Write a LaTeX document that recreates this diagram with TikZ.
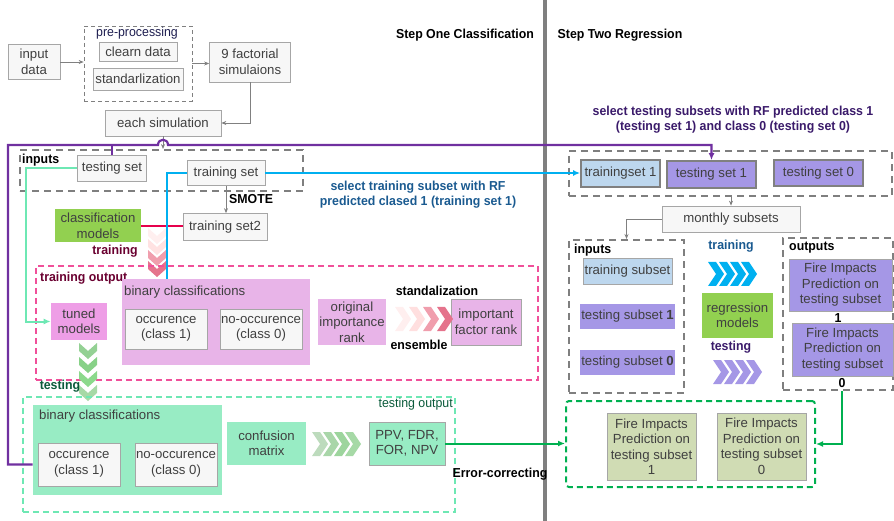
\documentclass[tikz,border=0pt]{standalone}
\usepackage{fontspec}
\setmainfont{Liberation Sans}
\newfontfamily\narrowfont[FakeStretch=0.95]{Liberation Sans}
\usetikzlibrary{arrows.meta,calc}

\definecolor{vio}{HTML}{7030A0}
\definecolor{sky}{HTML}{00B0F0}
\definecolor{mint}{HTML}{6EE8B4}
\definecolor{crimson}{HTML}{E6004C}
\definecolor{pinkdash}{HTML}{F0509A}
\definecolor{lilac}{HTML}{E8B4E8}
\definecolor{orchid}{HTML}{EE9EE6}
\definecolor{mintfill}{HTML}{98ECC4}
\definecolor{leaf}{HTML}{92D050}
\definecolor{paleblue}{HTML}{BDD7EE}
\definecolor{lavender}{HTML}{A597E6}
\definecolor{olive}{HTML}{D0DCB4}
\definecolor{grn}{HTML}{00B050}
\definecolor{divgray}{HTML}{7F7F7F}
\definecolor{maroon}{HTML}{6A0030}
\definecolor{navy}{HTML}{1E1E50}
\definecolor{deepblue}{HTML}{1A5A90}
\definecolor{deepvio}{HTML}{3A1A6A}
\definecolor{deepgrn}{HTML}{0A5A3A}

\tikzset{
  wh/.style 2 args={minimum width=#1pt, minimum height=#2pt},
  box/.style={draw=gray!70, fill=gray!6, text=black!75, line width=0.7pt,
    font=\fontsize{13.2}{15.5}\selectfont, align=center, inner sep=1pt},
  flat/.style={box, draw=none},
  setbox/.style={box, draw=gray, line width=1.8pt},
  tag/.style={font={\narrowfont\bfseries\fontsize{13}{15}\selectfont}, inner sep=0pt, align=center},
  grp/.style={draw=divgray, line width=2pt, dash pattern=on 7pt off 5pt},
  thindash/.style={draw=gray, line width=0.7pt, dash pattern=on 4pt off 3pt},
  arr/.style={draw=gray, line width=0.7pt, -{Stealth[length=5pt,width=4pt]}},
  chevright/.pic={\fill (0,-12) -- (8,-12) -- (16,0) -- (8,12) -- (0,12) -- (8,0) -- cycle;},
  chevdown/.pic={\fill (-9,0) -- (0,8) -- (9,0) -- (9,8) -- (0,16) -- (-9,8) -- cycle;}
}

\begin{document}
\begin{tikzpicture}[x=1pt, y=-1pt]
\useasboundingbox (0,0) rectangle (894,521);

% divider between the two steps
\draw[line width=4pt, divgray] (545,0) -- (545,521);
\node[tag] at (465,35) {Step One Classification};
\node[tag] at (620,35) {Step Two Regression};

% pre-processing
\node[box, wh={52}{35}] (indata) at (34,62) {input\\data};
\node[thindash, wh={108}{75}] (prep) at (138,63.5) {};
\node[font={\narrowfont\fontsize{13}{15}\selectfont}, text=navy, inner sep=0pt] at (137,33) {pre-processing};
\node[box, wh={78}{19}] (clean) at (138,52) {clearn data};
\node[box, wh={90}{22}] (stdz) at (138,79) {standarlization};
\node[box, wh={81}{40}] (fact) at (250,62) {9 factorial\\simulaions};
\node[box, wh={116}{26}] (each) at (163,123) {each simulation};
\draw[arr] (indata.east) -- (indata.east -| prep.west);
\draw[arr] (prep.east) -- (prep.east -| fact.west);
\draw[arr] (fact.south) |- (each.east);

% inputs of step one
\node[grp, wh={283}{41}] (inL) at (161.5,170.5) {};
\node[tag, anchor=west] at (22,160) {inputs};
\node[box, wh={69}{26}] (tsL) at (112,168) {testing set};
\node[box, wh={78}{25}] (trS) at (226,173) {training set};
\node[box, wh={84}{27}] (tr2) at (225,227) {training set2};
\node[flat, fill=leaf, wh={86}{33}] (clsM) at (98,226) {classification\\models};
\draw[arr] (each.south) -- (each.south |- inL.north);
\draw[arr] (trS.south) -- (trS.south |- tr2.north);
\node[tag, anchor=west] at (229,199) {SMOTE};
\draw[crimson, line width=1.8pt] (clsM.east) -- (clsM.east -| tr2.west);

% training
\foreach \y/\c in {228/pink!25, 239/pink!45, 250/pink!70!purple!80, 261/pink!60!purple} {
  \pic[fill=\c] at (157,\y) {chevdown};
}
\node[tag, text=maroon] at (115,251) {training};

\node[draw=pinkdash, line width=2pt, dash pattern=on 6pt off 4pt, wh={502}{114}] (trOut) at (287,323) {};
\node[tag, text=maroon, anchor=west] at (40,278) {training output};
\node[flat, fill=orchid, wh={56}{37}] (tuned) at (79,321.5) {tuned\\models};
\node[flat, fill=lilac, wh={188}{86}] (binTr) at (216,322) {};
\node[text=black!75, font=\fontsize{13.2}{15}\selectfont, anchor=west, inner sep=0pt] at (124,292) {binary classifications};
\node[box, wh={82}{40}] (occR) at (166,329) {occurence\\(class 1)};
\node[box, wh={82}{40}] (noccR) at (261,329) {no-occurence\\(class 0)};
\node[flat, fill=lilac, wh={68}{46}] (origImp) at (352,322) {original\\importance\\rank};
\node[box, fill=lilac, wh={70}{46}] (impF) at (486,322) {important\\factor rank};
\foreach \i/\c in {0/pink!25, 1/pink!50, 2/pink!70!purple!80, 3/pink!60!purple} {
  \pic[fill=\c] at (395+14*\i,319) {chevright};
}
\node[tag] at (437,291) {standalization};
\node[tag] at (419,345) {ensemble};

% links from the inputs
\draw[vio, line width=2.2pt] (tsL.north) -- (tsL.north |- 0,145);
\coordinate (vl) at (8,145);
\coordinate (hop) at (each.south |- vl);
\draw[mint, line width=2pt, -{Latex[length=7pt,width=6pt]}] (tsL.west) -- ++(-51,0) |- (tuned.west);
\draw[sky, line width=2.2pt] ([xshift=-49pt]binTr.north) |- (trS.west);

% testing
\foreach \y/\c in {343/green!40!gray!60, 357/green!45!gray!65, 371/green!50!gray!60, 385/green!40!gray!50} {
  \pic[fill=\c] at (88,\y) {chevdown};
}
\node[tag, text=deepgrn] at (60,386) {testing};

\node[draw=mint, line width=2pt, dash pattern=on 6pt off 4pt, wh={432}{115}] (teOut) at (239,454.5) {};
\node[font={\narrowfont\fontsize{13}{15}\selectfont}, text=deepgrn, anchor=east, inner sep=0pt] at (453,404) {testing output};
\node[flat, fill=mintfill, wh={189}{90}] (binT) at (127.5,450) {};
\node[text=black!75, font=\fontsize{13.2}{15}\selectfont, anchor=west, inner sep=0pt] at (39,416) {binary classifications};
\node[box, wh={82}{43}] (occT) at (79,464.5) {occurence\\(class 1)};
\node[box, wh={82}{43}] (noccT) at (176,464.5) {no-occurence\\(class 0)};
\node[flat, fill=mintfill, wh={79}{43}] (conf) at (266.5,443.5) {confusion\\matrix};
\foreach \i/\c in {0/green!30!gray!40, 1/green!35!gray!50, 2/green!40!gray!55, 3/green!40!gray!50} {
  \pic[fill=\c] at (312+11*\i,444) {chevright};
}
\node[box, fill=mintfill, wh={76}{43}] (ppv) at (407,443.5) {PPV, FDR,\\FOR, NPV};

% step two
\node[tag, text=deepvio] at (733,120) {select testing subsets with RF predicted class 1\\(testing set 1) and class 0 (testing set 0)};
\node[grp, wh={323}{45}] (selG) at (730.5,173.5) {};
\node[setbox, fill=paleblue, wh={79}{27}] (tr1) at (620.5,173.5) {trainingset 1};
\node[setbox, fill=lavender, wh={89}{27}] (ts1) at (711.5,174.5) {testing set 1};
\node[setbox, fill=lavender, wh={89}{26}] (ts0) at (818.5,173) {testing set 0};
\node[box, wh={138}{26}] (monthly) at (731,219) {monthly subsets};
\draw[arr] (monthly.north |- selG.south) -- (monthly.north);

\draw[sky, line width=2.2pt, -{Latex[length=7pt,width=6pt]}] (trS.east) -- (trS.east -| tr1.west);
\node[tag, text=deepblue] at (418,195) {select training subset with RF\\predicted clased 1 (training set 1)};

% purple selection line, hopping over the arrow of each simulation
\draw[vio, line width=2.2pt, -{Latex[length=7pt,width=6pt]}] (binT.west |- occT) -| (vl)
  -- ([xshift=-5pt]hop) .. controls ([xshift=-5pt,yshift=7pt]hop) and ([xshift=5pt,yshift=7pt]hop) .. ([xshift=5pt]hop)
  -| (ts1.north);

\node[grp, wh={115}{153}] (inR) at (626.5,316.5) {};
\node[tag, anchor=west] at (574,250) {inputs};
\draw[arr] (monthly.west) -| (inR.north);
\node[box, fill=paleblue, wh={89}{26}] (trSub) at (627.5,271) {training subset};
\node[flat, fill=lavender, wh={89}{25}] (teSub1) at (627.5,316.5) {testing subset \textbf{1}};
\node[flat, fill=lavender, wh={89}{25}] (teSub0) at (627.5,362.5) {testing subset \textbf{0}};

\foreach \i in {0,...,3} {
  \pic[fill=sky] at (708+11*\i,274) {chevright};
  \pic[fill=lavender] at (713+11*\i,372) {chevright};
}
\node[tag, text=deepblue] at (731,246) {training};
\node[tag, text=deepvio] at (731,347) {testing};
\node[flat, fill=leaf, wh={71}{45}] (regM) at (737.5,315.5) {regression\\models};

\node[grp, wh={110}{152}] (outR) at (838,314) {};
\node[tag, anchor=west] at (789,248) {outputs};
\node[box, fill=lavender, wh={103}{52}] (fip1) at (840.5,285) {Fire Impacts\\Prediction on\\testing subset};
\node[tag] at (838,318) {1};
\node[box, fill=lavender, wh={101}{53}] (fip0) at (842.5,349.5) {Fire Impacts\\Prediction on\\testing subset};
\node[tag] at (842,383) {0};

\node[draw=grn, line width=2pt, dash pattern=on 6pt off 4pt, rounded corners=3pt, wh={249}{86}] (outG) at (690.5,444) {};
\node[box, fill=olive, wh={89}{67}] (fipA) at (651.5,446.5) {Fire Impacts\\Prediction on\\testing subset\\1};
\node[box, fill=olive, wh={89}{67}] (fipB) at (761.5,446.5) {Fire Impacts\\Prediction on\\testing subset\\0};

\draw[grn, line width=2pt, -{Latex[length=7pt,width=6pt]}] (ppv.east) -- (ppv.east -| outG.west);
\node[tag] at (500,474) {Error-correcting};
\draw[grn, line width=2pt, -{Latex[length=7pt,width=6pt]}] ([xshift=4pt]outR.south) |- (outG.east);
\end{tikzpicture}
\end{document}
